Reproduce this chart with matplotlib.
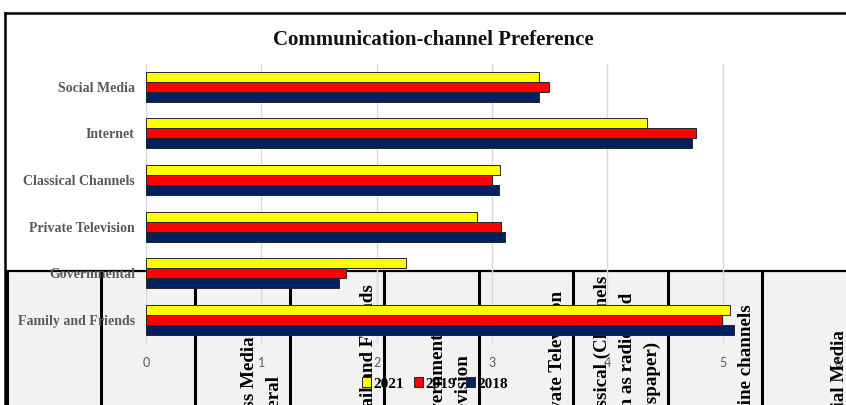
import matplotlib
matplotlib.use("Agg")
import matplotlib.pyplot as plt
import numpy as np
from matplotlib.lines import Line2D
from matplotlib.patches import Rectangle

categories = ["Social Media", "Internet", "Classical Channels",
              "Private Television", "Governmental", "Family and Friends"]
years = ["2021", "2019", "2018"]
pref_2021 = [3.41, 4.34, 3.07, 2.87, 2.25, 5.06]
pref_2019 = [3.49, 4.77, 3.00, 3.08, 1.73, 4.99]
pref_2018 = [3.41, 4.73, 3.06, 3.11, 1.67, 5.10]
bar_colors = ["#FFFF00", "#FF0000", "#002060"]
xticks = [0, 1, 2, 3, 4, 5, 6]

# header row of the table that sits under the chart (one list of lines per column)
header_cols = [[], [], ["Mass Media in", "general"], ["Email and Friends"],
               ["Governmental", "Television"], ["Private Television"],
               ["Classical (Channels", "such as radio and", "newspaper)"],
               ["Online channels"], ["Social Media"]]

W, H = 846, 405
fig = plt.figure(figsize=(W / 100, H / 100), dpi=100)
fig.patch.set_facecolor("white")


def fx(px):
    return px / W


def fy(py):
    return 1 - py / H


# outer frame (top and left edges)
fig.add_artist(Line2D([fx(5), fx(846)], [fy(13), fy(13)], color="black", lw=1.8,
                      transform=fig.transFigure, zorder=1))
fig.add_artist(Line2D([fx(5), fx(5)], [fy(13), fy(405)], color="black", lw=1.8,
                      transform=fig.transFigure, zorder=1))

# grey table underneath
col_edges = [7, 101, 195, 290, 384, 479, 573, 668, 762, 855]
fig.add_artist(Rectangle((fx(7), 0), fx(846) - fx(7), fy(271), facecolor="#f2f2f2",
                         edgecolor="none", transform=fig.transFigure, zorder=1))
fig.add_artist(Line2D([fx(7), fx(846)], [fy(271), fy(271)], color="black", lw=1.6,
                      transform=fig.transFigure, zorder=2))
for e in col_edges[:-1]:
    fig.add_artist(Line2D([fx(e), fx(e)], [fy(271), 0], color="black", lw=2.2,
                          transform=fig.transFigure, zorder=2))
for i, lines in enumerate(header_cols):
    right = col_edges[i + 1]
    n = len(lines)
    for j, s in enumerate(lines):
        x = right - 16 - (n - 1 - j) * 25
        fig.text(fx(x), fy(435), s, rotation=90, rotation_mode="anchor",
                 ha="left", va="center", fontsize=13.7, fontweight="bold",
                 family="Liberation Serif", color="black", zorder=2)

# chart
ax = fig.add_axes([fx(146), fy(343), fx(838) - fx(146), fy(63.5) - fy(343)])
ax.set_zorder(5)
ax.patch.set_alpha(0)

y = np.arange(len(categories))
h = 0.215
for k, (vals, lab) in enumerate(zip([pref_2021, pref_2019, pref_2018], years)):
    ax.barh(y + (k - 1) * h, vals, height=h, color=bar_colors[k], edgecolor="#262626",
            linewidth=0.7, label=lab, zorder=3)

ax.set_xlim(0, 6)
ax.set_ylim(len(categories) - 0.5, -0.5)
ax.set_xticks(xticks)
ax.set_yticks(y)
ax.set_yticklabels(categories, family="Liberation Serif", fontweight="bold",
                   fontsize=10, color="#595959")
for t in ax.get_xticklabels():
    t.set_family("Lato")
    t.set_fontsize(9)
    t.set_color("#595959")
ax.tick_params(axis="both", length=0)
ax.tick_params(axis="y", pad=8)
ax.tick_params(axis="x", pad=10)
ax.grid(axis="x", color="#d9d9d9", lw=1)
ax.get_xgridlines()[-1].set_visible(False)
ax.set_axisbelow(True)
for sp in ax.spines.values():
    sp.set_visible(False)

fig.text(fx(433), fy(40), "Communication-channel Preference", ha="center", va="center",
         fontsize=15, fontweight="bold", family="Liberation Serif", color="#111111",
         zorder=6)

leg = fig.legend(loc="center", bbox_to_anchor=(fx(435), fy(384)), ncol=3, frameon=False,
                 handlelength=0.6, handleheight=0.6, handletextpad=0.2, columnspacing=0.6,
                 prop={"family": "Liberation Serif", "weight": "bold", "size": 11})
leg.set_zorder(6)

fig.savefig("out.png", dpi=100)
